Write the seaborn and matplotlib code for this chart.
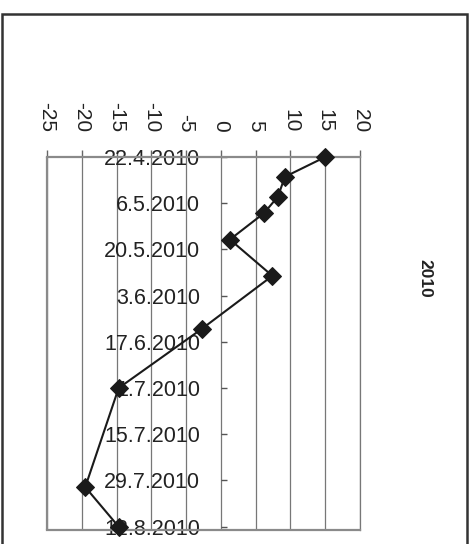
import matplotlib.pyplot as plt
import matplotlib.patches as mpatches
import pandas as pd
import seaborn as sns

# ---------------------- data ----------------------
dates = ["2010-04-22", "2010-04-28", "2010-05-04", "2010-05-09", "2010-05-17",
         "2010-05-28", "2010-06-13", "2010-07-01", "2010-07-31", "2010-08-12"]
values = [15.0, 9.2, 8.2, 6.2, 1.3, 7.4, -2.7, -14.7, -19.5, -14.7]

tick_dates = ["2010-04-22", "2010-05-06", "2010-05-20", "2010-06-03", "2010-06-17",
              "2010-07-01", "2010-07-15", "2010-07-29", "2010-08-12"]
tick_labels = ["22.4.2010", "6.5.2010", "20.5.2010", "3.6.2010", "17.6.2010",
               "1.7.2010", "15.7.2010", "29.7.2010", "12.8.2010"]
value_ticks = [-25, -20, -15, -10, -5, 0, 5, 10, 15, 20]

df = pd.DataFrame({"date": pd.to_datetime(dates), "value": values})

# ---------------------- style ----------------------
sns.set_theme(style="white")
plt.rcParams['font.family'] = ['Liberation Sans', 'DejaVu Sans']

fig = plt.figure(figsize=(4.74, 5.44), dpi=100)
ax = fig.add_axes([47 / 474, 1 - 530 / 544, 313 / 474, 373 / 544])

sns.lineplot(data=df, x="value", y="date", sort=False, estimator=None, orient="y",
             color="#1a1a1a", linewidth=1.5, marker="D", markersize=9.5,
             markerfacecolor="#1a1a1a", markeredgecolor="#1a1a1a", ax=ax, zorder=5)
for line in ax.lines:
    line.set_clip_on(False)

# value axis on top
ax.set_xlim(-25, 20)
ax.set_xticks(value_ticks)
ax.set_xticklabels([str(v) for v in value_ticks], rotation=-90)
ax.xaxis.tick_top()
ax.tick_params(axis='x', direction='out', length=5, width=1, color='#666666',
               pad=13, top=True, bottom=False, labelsize=15, labelcolor='#222222')
ax.grid(axis='x', color='#777777', linewidth=0.9)
ax.grid(axis='y', visible=False)

# date axis crossing at 0
ax.set_ylim(pd.Timestamp("2010-08-13"), pd.Timestamp("2010-04-22"))
ax.set_yticks(pd.to_datetime(tick_dates))
ax.set_yticklabels(tick_labels)
ax.spines['left'].set_position(('data', 0))
ax.spines['left'].set_visible(False)
ax.tick_params(axis='y', direction='in', length=4, width=1, color='#555555',
               pad=15, left=True, labelsize=15.5, labelcolor='#222222')

ax.set_xlabel("")
ax.set_ylabel("")
ax.set_facecolor("white")
for side in ['top', 'bottom', 'right']:
    ax.spines[side].set_color('#8a8a8a')
    ax.spines[side].set_linewidth(1.6)
ax.spines['right'].set_color('#777777')
ax.spines['right'].set_linewidth(0.9)
ax.add_patch(mpatches.Rectangle((0, 0), 0.0, 1.0, transform=ax.transAxes,
                                edgecolor='#8a8a8a', linewidth=1.6, fill=False, clip_on=False))

# title
fig.text(425 / 474, 1 - 278 / 544, "2010", rotation=-90, fontsize=12.5, fontweight='bold',
         ha='center', va='center', color='#222222')

# outer chart border
fig.patches.append(mpatches.Rectangle((2 / 474, -0.05), 465 / 474, 1.05 - 14 / 544,
                                      transform=fig.transFigure, fill=False,
                                      edgecolor='#333333', linewidth=1.8))

plt.savefig("out.png", dpi=100)
